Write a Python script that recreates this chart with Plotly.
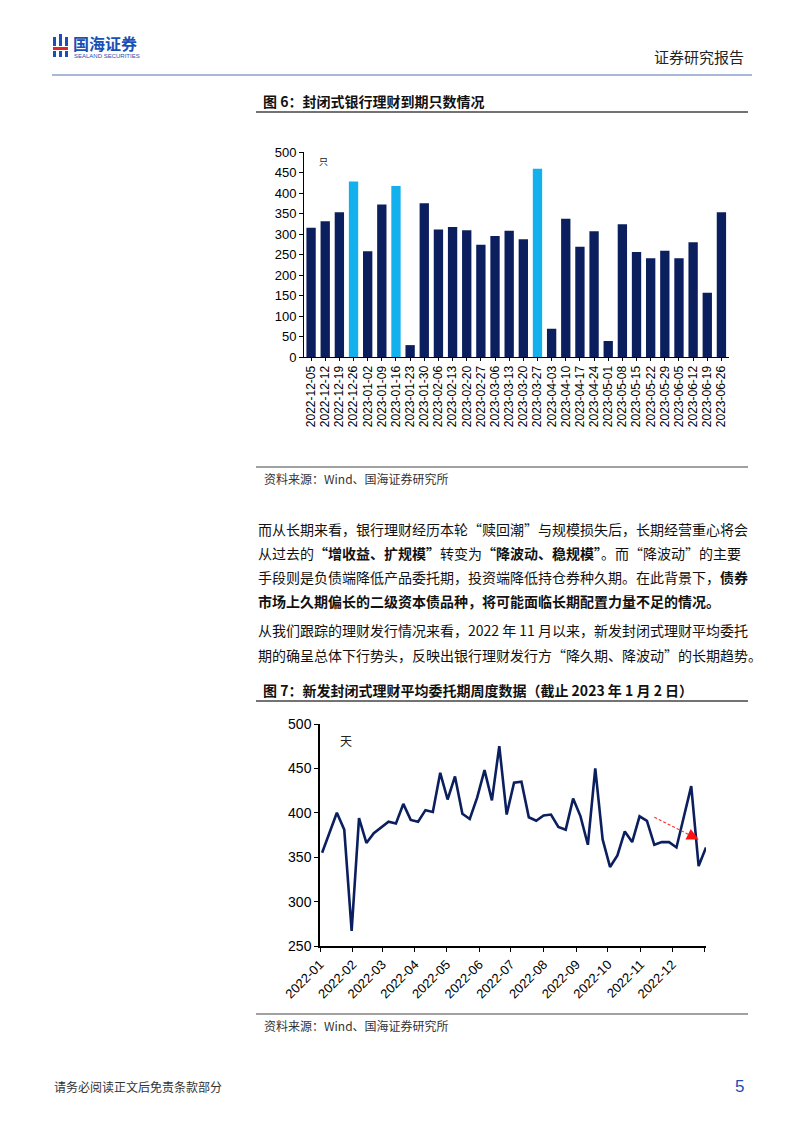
import pandas as pd
import plotly.graph_objects as go

W, H = 802, 1133

# ---------------- data ----------------
bar_dates = ["2022-12-05", "2022-12-12", "2022-12-19", "2022-12-26", "2023-01-02", "2023-01-09",
             "2023-01-16", "2023-01-23", "2023-01-30", "2023-02-06", "2023-02-13", "2023-02-20",
             "2023-02-27", "2023-03-06", "2023-03-13", "2023-03-20", "2023-03-27", "2023-04-03",
             "2023-04-10", "2023-04-17", "2023-04-24", "2023-05-01", "2023-05-08", "2023-05-15",
             "2023-05-22", "2023-05-29", "2023-06-05", "2023-06-12", "2023-06-19", "2023-06-26"]
bar_values = [315, 331, 353, 428, 258, 372, 417, 29, 375, 311, 317, 309, 274, 295, 308, 287,
              459, 69, 337, 269, 307, 39, 324, 256, 241, 259, 241, 280, 157, 353]
highlight_dates = ["2022-12-26", "2023-01-16", "2023-03-27"]

line_dates = list(pd.date_range("2022-01-03", periods=53, freq="7D").strftime("%Y-%m-%d"))
line_values = [355, 377, 400, 381, 267, 394, 366, 377, 383, 390,
               388, 410, 392, 390, 403, 401, 445, 415, 441, 399,
               393, 417, 448, 414, 475, 398, 434, 435, 395, 391,
               397, 398, 384, 381, 416, 396, 364, 450, 370, 339,
               352, 379, 367, 396, 391, 364, 367, 367, 361, 395,
               430, 340, 361]
month_ticks = ["2022-01-01", "2022-02-01", "2022-03-01", "2022-04-01", "2022-05-01", "2022-06-01",
               "2022-07-01", "2022-08-01", "2022-09-01", "2022-10-01", "2022-11-01", "2022-12-01",
               "2023-01-01"]
month_labels = ["2022-01", "2022-02", "2022-03", "2022-04", "2022-05", "2022-06",
                "2022-07", "2022-08", "2022-09", "2022-10", "2022-11", "2022-12", ""]
trend_start = ("2022-11-14", 395)
trend_end = ("2022-12-26", 370)

NAVY = "#0b1f5e"
LIGHT = "#13b0ee"
CJK = "Noto Sans CJK SC"
LAT = "Liberation Sans"


def px(x):
    return x / W


def py(y):
    return 1 - y / H


bar_colors = [LIGHT if d in highlight_dates else NAVY for d in bar_dates]

fig = go.Figure()
fig.add_trace(go.Bar(x=bar_dates, y=bar_values, marker=dict(color=bar_colors, line=dict(width=0)),
                     xaxis="x", yaxis="y", showlegend=False))
fig.add_trace(go.Scatter(x=line_dates, y=line_values, mode="lines",
                         line=dict(color=NAVY, width=2.6), xaxis="x2", yaxis="y2", showlegend=False))

axis_font = dict(family=LAT, size=12, color="#000000")
fig.update_layout(
    width=W, height=H, margin=dict(l=0, r=0, t=0, b=0, autoexpand=False),
    paper_bgcolor="white", plot_bgcolor="white", bargap=0.34, showlegend=False,
    xaxis=dict(domain=[px(304), px(728.5)], type="category", tickangle=-90,
               tickmode="array", tickvals=bar_dates, ticktext=bar_dates,
               showline=True, linecolor="#000000", linewidth=1, ticks="outside", ticklen=3,
               tickcolor="#000000", tickfont=axis_font, showgrid=False, zeroline=False,
               automargin=False, anchor="y"),
    yaxis=dict(domain=[py(357), py(152)], range=[0, 500], tickvals=list(range(0, 501, 50)),
               showline=True, linecolor="#000000", linewidth=1, ticks="outside", ticklen=4,
               tickcolor="#000000", tickfont=dict(family=LAT, size=13, color="#000000"),
               showgrid=False, zeroline=False, automargin=False, anchor="x"),
    xaxis2=dict(domain=[px(320), px(706)], type="date", range=["2022-01-01", "2023-01-02"],
                tickmode="array", tickvals=month_ticks, ticktext=month_labels, tickangle=-45,
                showline=True, linecolor="#000000", linewidth=1.5, ticks="outside", ticklen=4,
                tickcolor="#000000", tickfont=dict(family=LAT, size=13, color="#000000"),
                showgrid=False, zeroline=False, automargin=False, anchor="y2"),
    yaxis2=dict(domain=[py(946), py(724)], range=[250, 500], tickvals=list(range(250, 501, 50)),
                showline=True, linecolor="#000000", linewidth=1.5, ticks="outside", ticklen=4,
                tickcolor="#000000", tickfont=dict(family=LAT, size=14, color="#000000"),
                showgrid=False, zeroline=False, automargin=False, anchor="x2"),
)

shapes = []
annotations = []

# trend arrow: dashed shaft + filled head
shapes.append(dict(type="line", xref="x2", yref="y2", x0=trend_start[0], y0=trend_start[1],
                   x1=trend_end[0], y1=trend_end[1],
                   line=dict(color="#ff3030", width=1.2, dash="3px,2px")))
annotations.append(dict(x=trend_end[0], y=trend_end[1], ax=-10, ay=-5, xref="x2", yref="y2",
                        axref="pixel", ayref="pixel", text="", showarrow=True, arrowhead=2,
                        arrowsize=1.8, arrowwidth=1.3, arrowcolor="#ff1010"))


def text(x, y, s, size=14, color="#111111", family=CJK, xanchor="left", yanchor="middle"):
    annotations.append(dict(x=px(x), y=py(y), xref="paper", yref="paper", text=s,
                            showarrow=False, xanchor=xanchor, yanchor=yanchor,
                            font=dict(family=family, size=size, color=color)))


def hline(x0, x1, y, color, width):
    shapes.append(dict(type="line", xref="paper", yref="paper", x0=px(x0), x1=px(x1),
                       y0=py(y), y1=py(y), line=dict(color=color, width=width)))


def rect(x0, y0, x1, y1, color):
    shapes.append(dict(type="rect", xref="paper", yref="paper", x0=px(x0), x1=px(x1),
                       y0=py(y1), y1=py(y0), fillcolor=color, line=dict(width=0)))


# header logo
rect(53, 37, 56, 46, "#1a4fb5")
rect(59, 34, 62, 46, "#1a4fb5")
rect(65, 37, 68, 46, "#1a4fb5")
rect(53, 47, 68, 50, "#e0262d")
rect(53, 51, 56, 57, "#1a4fb5")
rect(59, 51, 62, 57, "#1a4fb5")
rect(65, 51, 68, 57, "#1a4fb5")
text(71, 43, "<b>国海证券</b>", size=16, color="#1a4fb5")
text(72, 55.5, "SEALAND SECURITIES", size=6, color="#1a4fb5", family=LAT)
text(746, 57, "证券研究报告", size=15, color="#222222", xanchor="right")
hline(52, 752, 75, "#a9b7d8", 2)

# figure 6
text(261, 101, "<b>图 6：封闭式银行理财到期只数情况</b>", size=14, color="#111111")
hline(256, 748, 112, "#444444", 1.5)
text(317, 162, "只", size=9, color="#222222")
hline(256, 748, 467, "#444444", 1.2)
text(262, 479, "资料来源：Wind、国海证券研究所", size=12, color="#333333")

# paragraph 1
text(256, 529, "而从长期来看，银行理财经历本轮“赎回潮”与规模损失后，长期经营重心将会", size=14)
text(256, 553, "从过去的<b>“增收益、扩规模”</b>转变为<b>“降波动、稳规模”</b>。而“降波动”的主要", size=14)
text(256, 577, "手段则是负债端降低产品委托期，投资端降低持仓券种久期。在此背景下，<b>债券</b>", size=14)
text(256, 601, "<b>市场上久期偏长的二级资本债品种，将可能面临长期配置力量不足的情况。</b>", size=14)

# paragraph 2
text(256, 630, "从我们跟踪的理财发行情况来看，2022 年 11 月以来，新发封闭式理财平均委托", size=14)
text(256, 655, "期的确呈总体下行势头，反映出银行理财发行方“降久期、降波动”的长期趋势。", size=14)

# figure 7
text(261, 690, "<b>图 7：新发封闭式理财平均委托期周度数据（截止 2023 年 1 月 2 日）</b>", size=14)
hline(256, 748, 701, "#444444", 1.5)
text(338, 740, "天", size=12, color="#222222")
hline(256, 748, 1014, "#444444", 1.2)
text(262, 1025, "资料来源：Wind、国海证券研究所", size=12, color="#333333")

# footer
text(52, 1086, "请务必阅读正文后免责条款部分", size=12, color="#333333")
text(746, 1086, "5", size=17, color="#1a4fb5", family=LAT, xanchor="right")

fig.update_layout(shapes=shapes, annotations=annotations)

fig.write_html("out.html")
